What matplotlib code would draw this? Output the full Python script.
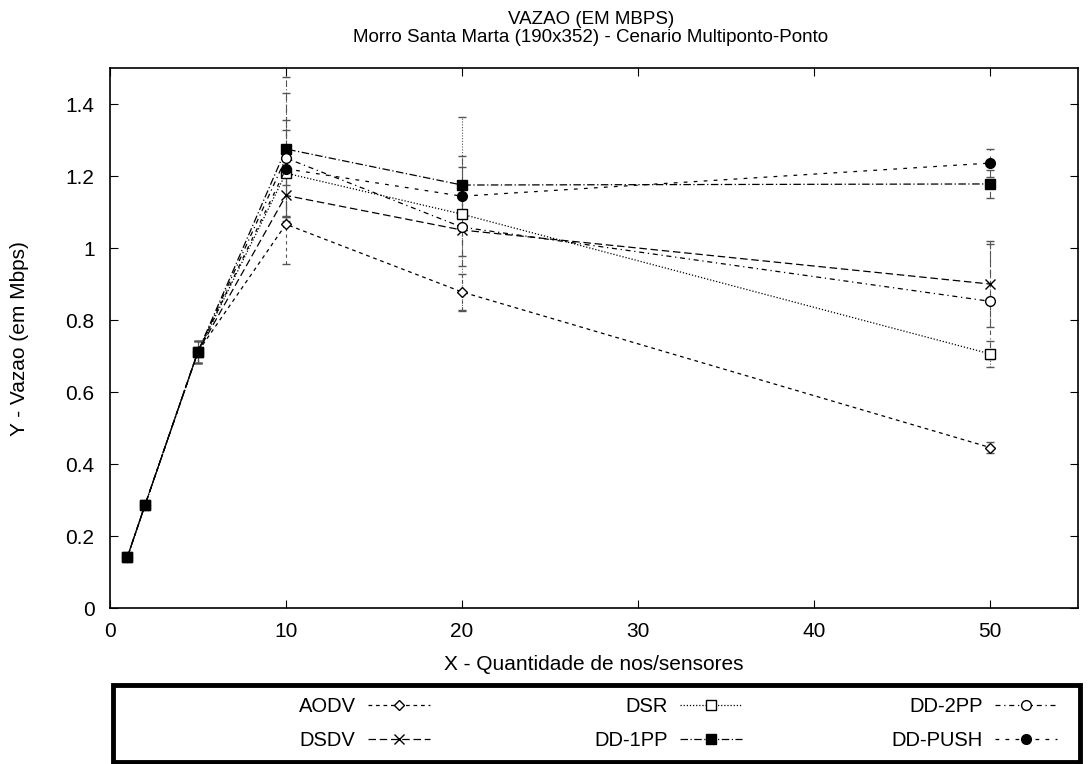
import numpy as np
import matplotlib.pyplot as plt
from matplotlib.patches import Rectangle

plt.rcParams['font.family'] = ['Liberation Sans', 'DejaVu Sans']

x = [1, 2, 5, 10, 20, 50]

names = ['AODV', 'DSDV', 'DSR', 'DD-1PP', 'DD-2PP', 'DD-PUSH']

aodv = [0.143, 0.287, 0.712, 1.066, 0.878, 0.446]
dsdv = [0.143, 0.287, 0.712, 1.146, 1.050, 0.900]
dsr = [0.143, 0.287, 0.712, 1.208, 1.094, 0.706]
dd1pp = [0.143, 0.287, 0.712, 1.275, 1.175, 1.178]
dd2pp = [0.143, 0.287, 0.712, 1.250, 1.058, 0.852]
ddpush = [0.143, 0.287, 0.712, 1.220, 1.144, 1.236]

aodv_err = [0.005, 0.005, 0.03, 0.11, 0.05, 0.015]
dsdv_err = [0.005, 0.005, 0.03, 0.06, 0.10, 0.12]
dsr_err = [0.005, 0.005, 0.03, 0.12, 0.27, 0.035]
dd1pp_err = [0.005, 0.005, 0.03, 0.20, 0.08, 0.04]
dd2pp_err = [0.005, 0.005, 0.03, 0.18, 0.08, 0.16]
ddpush_err = [0.005, 0.005, 0.03, 0.135, 0.08, 0.04]

series = [aodv, dsdv, dsr, dd1pp, dd2pp, ddpush]
errs = [aodv_err, dsdv_err, dsr_err, dd1pp_err, dd2pp_err, ddpush_err]

markers = ['D', 'x', 's', 's', 'o', 'o']
filled = [False, False, False, True, False, True]
msizes = [5, 7, 7, 7, 7, 7]
styles = [(0, (3, 3)), (0, (6, 3)), (0, (1, 1.5)), (0, (6, 2, 1, 2)),
          (0, (4, 3, 1, 3)), (0, (3, 5))]

fig = plt.figure(figsize=(10.88, 7.64), dpi=100)
ax = fig.add_axes([0.101, 0.204, 0.890, 0.707])

handles = []
for i in range(len(names)):
    fc = 'black' if filled[i] else 'white'
    eb = ax.errorbar(x, series[i], yerr=errs[i], color='black',
                     ecolor='#555555', elinewidth=0.8, capsize=3, capthick=0.8,
                     linestyle=styles[i], linewidth=0.9,
                     marker=markers[i], markersize=msizes[i],
                     markerfacecolor=fc, markeredgecolor='black',
                     markeredgewidth=1, label=names[i])
    for c in eb[2]:
        c.set_linestyle(styles[i])
    handles.append(eb[0])

ax.set_xlim(0, 55)
ax.set_ylim(0, 1.5)
ax.set_xticks([0, 10, 20, 30, 40, 50])
ax.set_yticks([0, 0.2, 0.4, 0.6, 0.8, 1.0, 1.2, 1.4])
ax.set_yticklabels(['0', '0.2', '0.4', '0.6', '0.8', '1', '1.2', '1.4'])
ax.tick_params(direction='in', top=True, right=True, labelsize=15, length=6)
ax.tick_params(axis='x', pad=10)
ax.tick_params(axis='y', pad=11)
for s in ax.spines.values():
    s.set_linewidth(1.2)

ax.set_xlabel('X - Quantidade de nos/sensores', fontsize=15)
ax.set_ylabel('Y - Vazao (em Mbps)', fontsize=15)
ax.xaxis.set_label_coords(0.5, -0.087)
ax.yaxis.set_label_coords(-0.084, 0.5)

fig.text(0.543, 1 - 20 / 764, 'VAZAO (EM MBPS)', ha='center', va='center',
         fontsize=13.5)
fig.text(0.543, 1 - 37 / 764,
         'Morro Santa Marta (190x352) - Cenario Multiponto-Ponto',
         ha='center', va='center', fontsize=13.5)

# legend box under the plot, three columns right-aligned
bx0, bx1 = 0.104, 0.993
by0, by1 = 0.003, 0.103
fig.patches.append(Rectangle((bx0, by0), bx1 - bx0, by1 - by0,
                             transform=fig.transFigure, fill=False,
                             edgecolor='black', linewidth=3.5))
col_right = [430 / 1088, 742 / 1088, 1057 / 1088]
for k in range(3):
    fig.legend(handles[2 * k:2 * k + 2], names[2 * k:2 * k + 2],
               loc='center right',
               bbox_to_anchor=(col_right[k], (by0 + by1) / 2),
               markerfirst=False, frameon=False, fontsize=14.5,
               handlelength=3.1, handletextpad=0.6, labelspacing=0.75,
               borderpad=0, borderaxespad=0)

fig.savefig('out.png', dpi=100)
